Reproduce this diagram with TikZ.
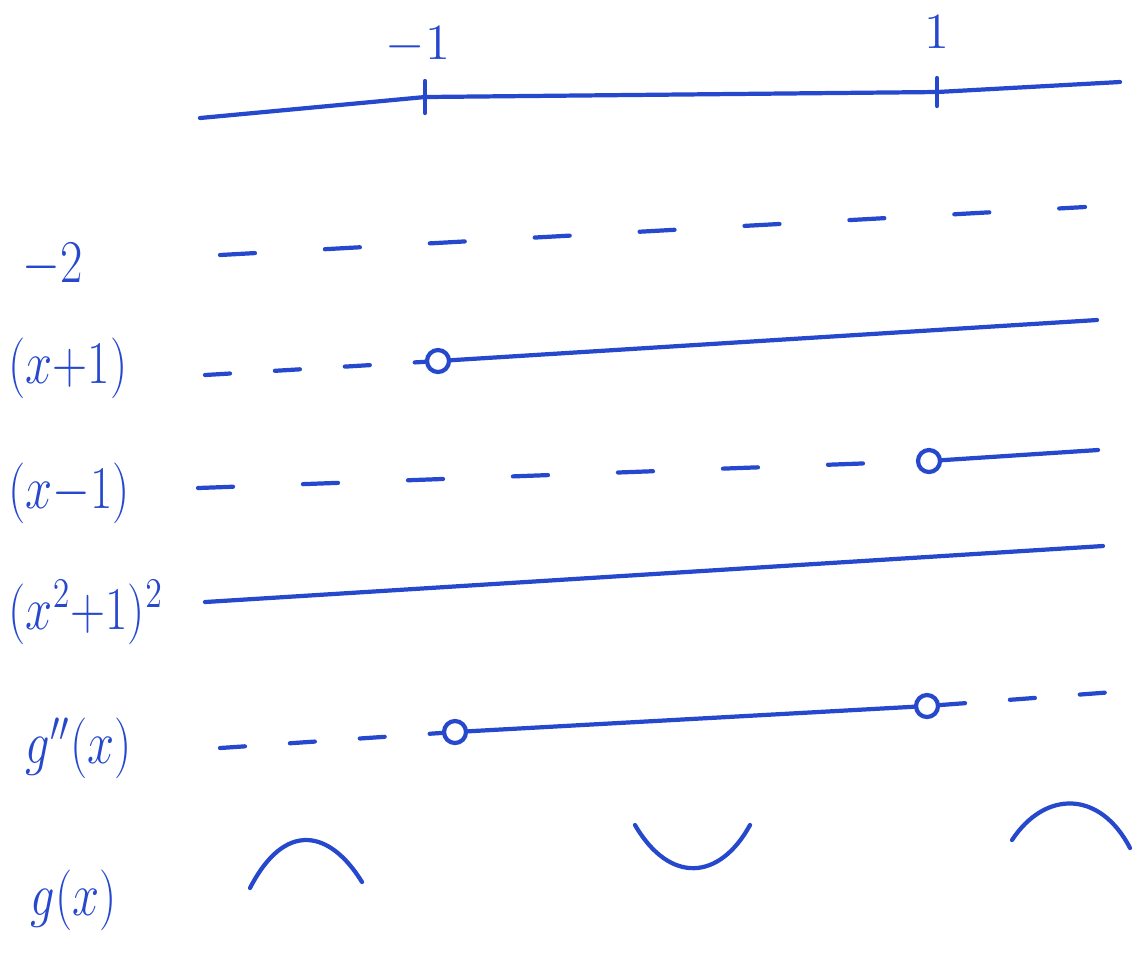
\documentclass[tikz,border=0pt]{standalone}
\usepackage{amsmath}
\usetikzlibrary{positioning}
\definecolor{pen}{RGB}{38,72,205}
\begin{document}
\begin{tikzpicture}[
  x=0.01cm,
  y=-0.01cm,
  font=\LARGE,
  every node/.style={text=pen},
  rowlabel/.style={
    anchor=west,
    inner sep=0pt,
    xscale=0.8
  },
  pen/.style={
    draw=pen,
    line width=1.2pt,
    line cap=round
  },
  neg/.style={
    pen,
    dash pattern=on 3.5mm off 7mm
  },
  negshort/.style={
    pen,
    dash pattern=on 2.5mm off 4.5mm
  },
  hole/.style={
    circle,
    draw=pen,
    line width=1.2pt,
    minimum size=2.2mm,
    inner sep=0pt
  }
]
\useasboundingbox (0,0) rectangle (1146,956);

% number line
\coordinate (axL) at (200,118);
\coordinate (axR) at (1120,82);
\coordinate (tA) at (425,97);
\coordinate (tB) at (937,92);
\draw[pen] (axL) -- (tA) -- (tB) -- (axR);
\draw[pen] (tA) ++(0,-16) -- ++(0,32);
\draw[pen] (tB) ++(0,-14) -- ++(0,28);
\node[font=\Large] (lmone) at (418,45) {$-1$};
\node[font=\Large] (lone) at (937,32) {$1$};

% -2
\node[rowlabel] (cneg) at (22,265) {$-2$};
\coordinate (c1) at (220,255);
\coordinate (c2) at (1085,207);
\draw[neg] (c1) -- (c2);

% (x+1)
\node[rowlabel] (fa) at (8,368) {$(x{+}1)$};
\coordinate (fa1) at (205,375);
\node[hole] (ha) at (438,361) {};
\coordinate (fa2) at (1097,320);
\draw[negshort] (fa1) -- (ha);
\draw[pen] (ha) -- (fa2);

% (x-1)
\node[rowlabel] (fb) at (8,493) {$(x{-}1)$};
\coordinate (fb1) at (198,488);
\node[hole] (hb) at (929,461) {};
\coordinate (fb2) at (1098,450);
\draw[neg] (fb1) -- (hb);
\draw[pen] (hb) -- (fb2);

% (x^2+1)^2
\node[rowlabel] (fc) at (8,612) {$(x^2{+}1)^2$};
\coordinate (fc1) at (205,602);
\coordinate (fc2) at (1103,546);
\draw[pen] (fc1) -- (fc2);

% g''(x)
\node[rowlabel] (fd) at (25,748) {$g''(x)$};
\coordinate (fd1) at (220,748);
\node[hole] (hd1) at (455,732) {};
\node[hole] (hd2) at (927,706) {};
\coordinate (fd2) at (1140,690);
\draw[negshort] (fd1) -- (hd1);
\draw[pen] (hd1) -- (hd2);
\draw[negshort] (hd2) -- (fd2);

% g(x)
\node[rowlabel] (fe) at (30,900) {$g(x)$};
\draw[pen] (250,888) .. controls (285,820) and (330,830) .. (362,882);
\draw[pen] (635,825) .. controls (670,885) and (720,880) .. (750,825);
\draw[pen] (1012,840) .. controls (1045,790) and (1100,790) .. (1130,848);
\end{tikzpicture}
\end{document}
